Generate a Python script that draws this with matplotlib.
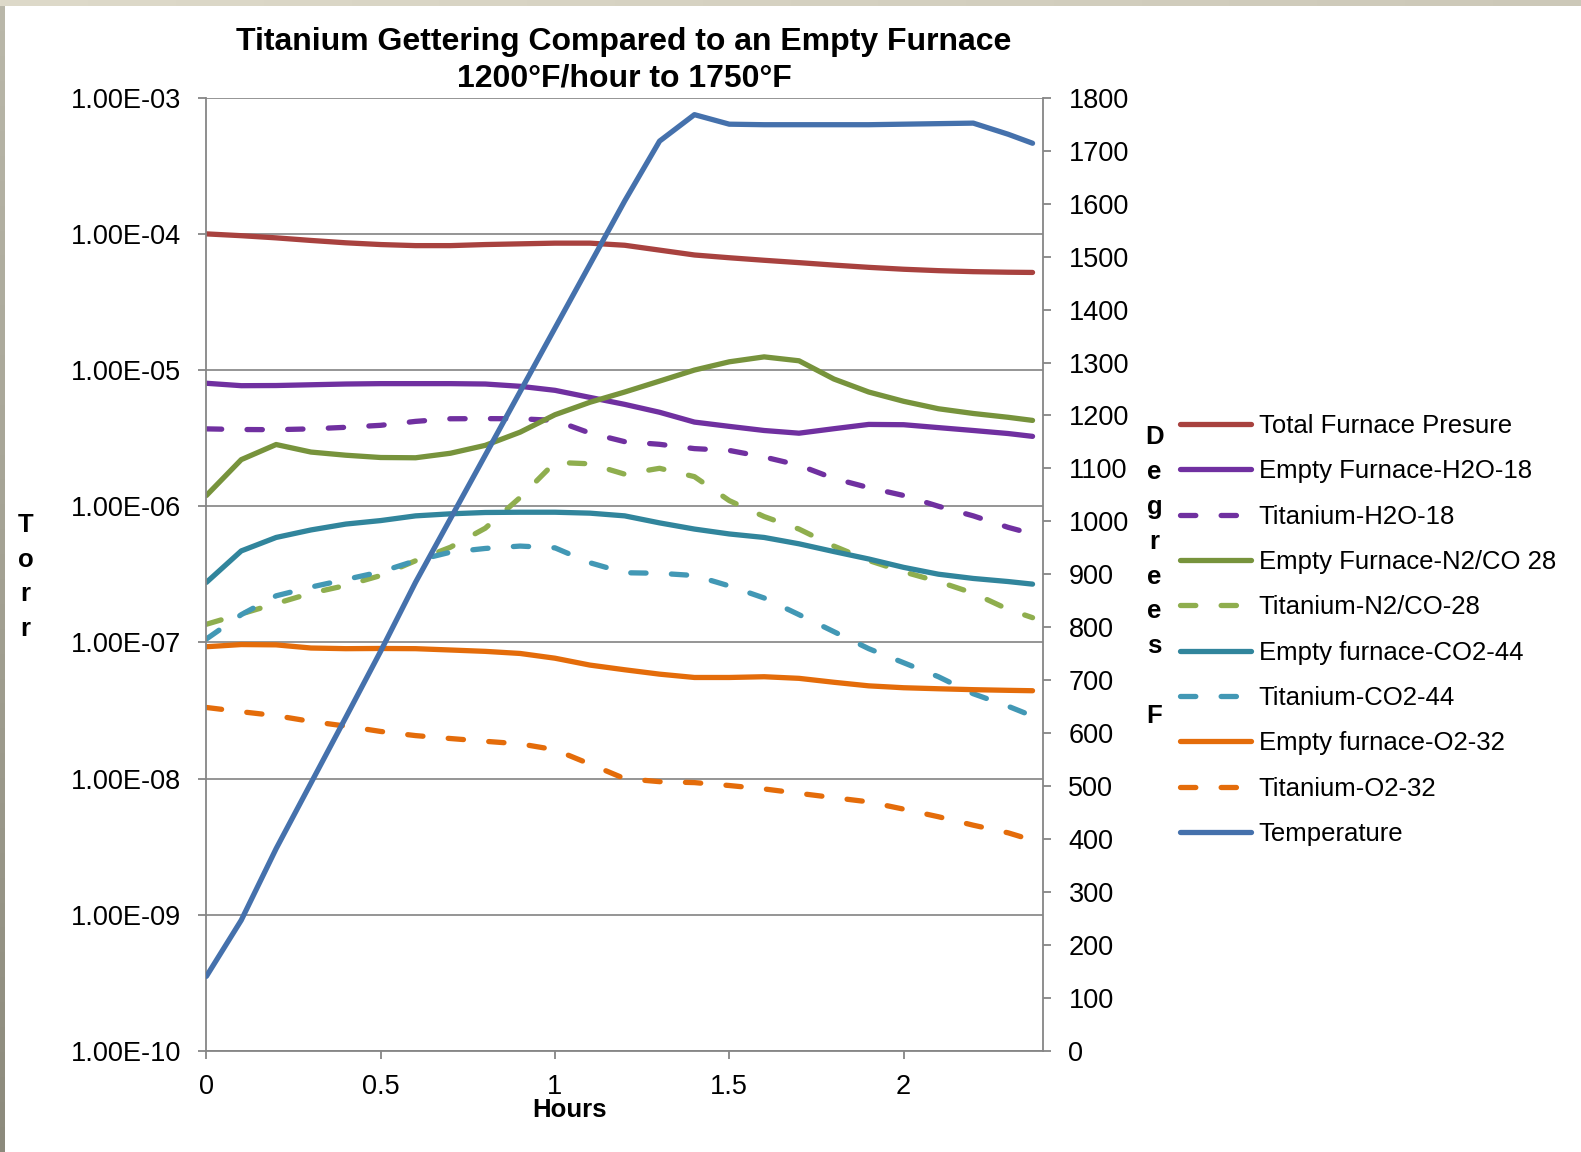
import matplotlib
matplotlib.use('Agg')
import matplotlib.pyplot as plt
import numpy as np
from matplotlib.ticker import FixedLocator, FuncFormatter, NullLocator

plt.rcParams['font.family'] = ['Liberation Sans', 'DejaVu Sans']

# ---------------- data ----------------
hours = [0.0, 0.1, 0.2, 0.3, 0.4, 0.5, 0.6, 0.7, 0.8, 0.9, 1.0, 1.1, 1.2,
         1.3, 1.4, 1.5, 1.6, 1.7, 1.8, 1.9, 2.0, 2.1, 2.2, 2.3, 2.37]

total_furnace = [1.00e-4, 9.7e-5, 9.35e-5, 8.95e-5, 8.6e-5, 8.35e-5, 8.2e-5, 8.2e-5,
                 8.35e-5, 8.45e-5, 8.55e-5, 8.55e-5, 8.25e-5, 7.6e-5, 7.0e-5, 6.68e-5,
                 6.4e-5, 6.15e-5, 5.9e-5, 5.68e-5, 5.5e-5, 5.37e-5, 5.28e-5, 5.23e-5, 5.21e-5]
empty_h2o = [8.0e-6, 7.68e-6, 7.7e-6, 7.8e-6, 7.9e-6, 7.95e-6, 7.95e-6, 7.95e-6, 7.9e-6,
             7.6e-6, 7.1e-6, 6.3e-6, 5.6e-6, 4.9e-6, 4.15e-6, 3.86e-6, 3.6e-6, 3.44e-6,
             3.71e-6, 3.99e-6, 3.97e-6, 3.78e-6, 3.6e-6, 3.42e-6, 3.26e-6]
ti_h2o = [3.7e-6, 3.66e-6, 3.65e-6, 3.7e-6, 3.8e-6, 3.93e-6, 4.2e-6, 4.39e-6, 4.4e-6,
          4.39e-6, 4.27e-6, 3.45e-6, 2.98e-6, 2.85e-6, 2.65e-6, 2.57e-6, 2.3e-6, 2.0e-6,
          1.6e-6, 1.37e-6, 1.2e-6, 1.0e-6, 8.5e-7, 7.0e-7, 6.26e-7]
empty_n2 = [1.2e-6, 2.2e-6, 2.84e-6, 2.5e-6, 2.37e-6, 2.28e-6, 2.27e-6, 2.45e-6, 2.8e-6,
            3.5e-6, 4.7e-6, 5.8e-6, 6.9e-6, 8.3e-6, 1.0e-5, 1.15e-5, 1.25e-5, 1.17e-5,
            8.6e-6, 6.9e-6, 5.9e-6, 5.2e-6, 4.8e-6, 4.5e-6, 4.27e-6]
ti_n2 = [1.36e-7, 1.62e-7, 1.93e-7, 2.3e-7, 2.62e-7, 3.1e-7, 3.98e-7, 5.0e-7, 6.9e-7,
         1.16e-6, 2.1e-6, 2.05e-6, 1.72e-6, 1.9e-6, 1.65e-6, 1.1e-6, 8.4e-7, 6.8e-7,
         5.1e-7, 4.0e-7, 3.3e-7, 2.8e-7, 2.3e-7, 1.75e-7, 1.52e-7]
empty_co2 = [2.76e-7, 4.7e-7, 5.9e-7, 6.7e-7, 7.4e-7, 7.85e-7, 8.5e-7, 8.8e-7, 9.0e-7,
             9.04e-7, 9.04e-7, 8.9e-7, 8.5e-7, 7.55e-7, 6.8e-7, 6.26e-7, 5.9e-7, 5.3e-7,
             4.65e-7, 4.1e-7, 3.56e-7, 3.17e-7, 2.95e-7, 2.8e-7, 2.68e-7]
ti_co2 = [1.06e-7, 1.6e-7, 2.2e-7, 2.55e-7, 2.9e-7, 3.3e-7, 3.98e-7, 4.6e-7, 4.9e-7,
          5.1e-7, 4.95e-7, 3.85e-7, 3.25e-7, 3.22e-7, 3.1e-7, 2.6e-7, 2.12e-7, 1.6e-7,
          1.2e-7, 9.0e-8, 7.1e-8, 5.6e-8, 4.2e-8, 3.4e-8, 2.88e-8]
empty_o2 = [9.3e-8, 9.65e-8, 9.6e-8, 9.1e-8, 9.0e-8, 9.03e-8, 9.0e-8, 8.8e-8, 8.6e-8,
            8.3e-8, 7.66e-8, 6.82e-8, 6.3e-8, 5.85e-8, 5.53e-8, 5.53e-8, 5.6e-8, 5.45e-8,
            5.1e-8, 4.8e-8, 4.65e-8, 4.57e-8, 4.5e-8, 4.45e-8, 4.42e-8]
ti_o2 = [3.33e-8, 3.1e-8, 2.9e-8, 2.63e-8, 2.43e-8, 2.22e-8, 2.07e-8, 1.97e-8, 1.88e-8,
         1.8e-8, 1.63e-8, 1.28e-8, 1.0e-8, 9.5e-9, 9.35e-9, 8.9e-9, 8.4e-9, 7.8e-9,
         7.25e-9, 6.75e-9, 5.97e-9, 5.25e-9, 4.55e-9, 4.0e-9, 3.53e-9]
temperature = [141, 247, 382, 506, 630, 755, 885, 1005, 1125, 1245, 1365, 1485, 1605,
               1718, 1768, 1750, 1749, 1749, 1749, 1749, 1750, 1751, 1752, 1731, 1714]

series_labels = ["Total Furnace Presure", "Empty Furnace-H2O-18", "Titanium-H2O-18",
                 "Empty Furnace-N2/CO 28", "Titanium-N2/CO-28", "Empty furnace-CO2-44",
                 "Titanium-CO2-44", "Empty furnace-O2-32", "Titanium-O2-32"]
temp_label = "Temperature"
x_ticks = [0, 0.5, 1, 1.5, 2]
x_tick_labels = ["0", "0.5", "1", "1.5", "2"]
torr_ticks = [1e-10, 1e-9, 1e-8, 1e-7, 1e-6, 1e-5, 1e-4, 1e-3]
deg_ticks = list(range(0, 1801, 100))

# ---------------- styles ----------------
colors = ['#A8423F', '#7030A0', '#7030A0', '#77933C', '#8FAE4E',
          '#31859C', '#4298B5', '#E46C0A', '#E46C0A']
dashed = [False, False, True, False, True, False, True, False, True]
temp_color = '#4571AC'
LW = 3.8
GRAY = '#868686'

W, H = 1581, 1152
fig = plt.figure(figsize=(W / 100, H / 100), dpi=100)
fig.patch.set_facecolor('white')

# slide-like border strips
t = np.linspace(0, 1, W)[None, :, None]
c0 = np.array([222, 218, 202]) / 255.0
c1 = np.array([204, 200, 184]) / 255.0
top_img = np.repeat(c0 + (c1 - c0) * t, 6, axis=0)
fig.figimage(top_img, xo=0, yo=H - 6, origin='upper')
s = np.linspace(0, 1, H - 6)[:, None, None]
l0 = np.array([186, 184, 170]) / 255.0
l1 = np.array([140, 138, 124]) / 255.0
left_img = np.repeat(l0 + (l1 - l0) * s, 5, axis=1)
fig.figimage(left_img, xo=0, yo=0, origin='upper')

ax = fig.add_axes([206.4 / W, 101.0 / H, 836.6 / W, 953.3 / H])
ax.set_yscale('log')
ax.set_ylim(1e-10, 1e-3)
ax.set_xlim(0, 2.4)

series = [total_furnace, empty_h2o, ti_h2o, empty_n2, ti_n2,
          empty_co2, ti_co2, empty_o2, ti_o2]
handles = []
for vals, lab, col, dsh in zip(series, series_labels, colors, dashed):
    if dsh:
        ln, = ax.plot(hours, vals, color=col, lw=LW, label=lab,
                      dashes=(2.9, 4.8), dash_capstyle='round')
    else:
        ln, = ax.plot(hours, vals, color=col, lw=LW, label=lab,
                      solid_capstyle='round', solid_joinstyle='round')
    handles.append(ln)

ax.yaxis.set_major_locator(FixedLocator(torr_ticks))
ax.yaxis.set_minor_locator(NullLocator())
ax.yaxis.set_major_formatter(FuncFormatter(lambda v, p: f"{v:.2E}"))
ax.set_xticks(x_ticks)
ax.set_xticklabels(x_tick_labels)
ax.grid(axis='y', which='major', color='#8C8C8C', lw=1.3)
ax.set_axisbelow(True)
ax.tick_params(axis='both', which='major', direction='out', length=5.8, width=1.3,
               color=GRAY, labelsize=19.5, pad=12.5, labelcolor='black')
ax.tick_params(axis='x', pad=10.5)
for sp in ['top', 'right']:
    ax.spines[sp].set_visible(False)
for sp in ['left', 'bottom']:
    ax.spines[sp].set_color(GRAY)
    ax.spines[sp].set_linewidth(1.3)

ax2 = ax.twinx()
ax2.set_ylim(0, 1800)
tl, = ax2.plot(hours, temperature, color=temp_color, lw=LW, label=temp_label,
               solid_capstyle='round', solid_joinstyle='round')
handles.append(tl)
ax2.set_yticks(deg_ticks)
ax2.set_yticklabels([str(d) for d in deg_ticks])
ax2.tick_params(axis='y', direction='out', length=5.8, width=1.3, color=GRAY,
                labelsize=19.5, pad=12.5)
for sp in ['top', 'left', 'bottom']:
    ax2.spines[sp].set_visible(False)
ax2.spines['right'].set_color(GRAY)
ax2.spines['right'].set_linewidth(1.3)

# texts
fig.text(624 / W, 1 - 60 / H,
         "Titanium Gettering Compared to an Empty Furnace\n1200°F/hour to 1750°F",
         ha='center', va='center', fontsize=23, fontweight='bold', linespacing=1.3,
         multialignment='center')
fig.text(569 / W, 1 - 1117 / H, "Hours", ha='center', va='baseline',
         fontsize=18.5, fontweight='bold')
fig.text(25.5 / W, 1 - 577 / H, "T\no\nr\nr", ha='center', va='center',
         fontsize=18.5, fontweight='bold', linespacing=1.57, multialignment='center')
fig.text(1154.5 / W, 1 - 576.5 / H, "D\ne\ng\nr\ne\ne\ns\n\nF", ha='center', va='center',
         fontsize=18.5, fontweight='bold', linespacing=1.57, multialignment='center')

fig.legend(handles, [h.get_label() for h in handles], loc='center left',
           bbox_to_anchor=(1180 / W, 1 - 630 / H), frameon=False, fontsize=18.5,
           handlelength=2.76, handletextpad=0.3, labelspacing=0.83,
           borderpad=0, borderaxespad=0)

fig.savefig('out.png', dpi=100)
